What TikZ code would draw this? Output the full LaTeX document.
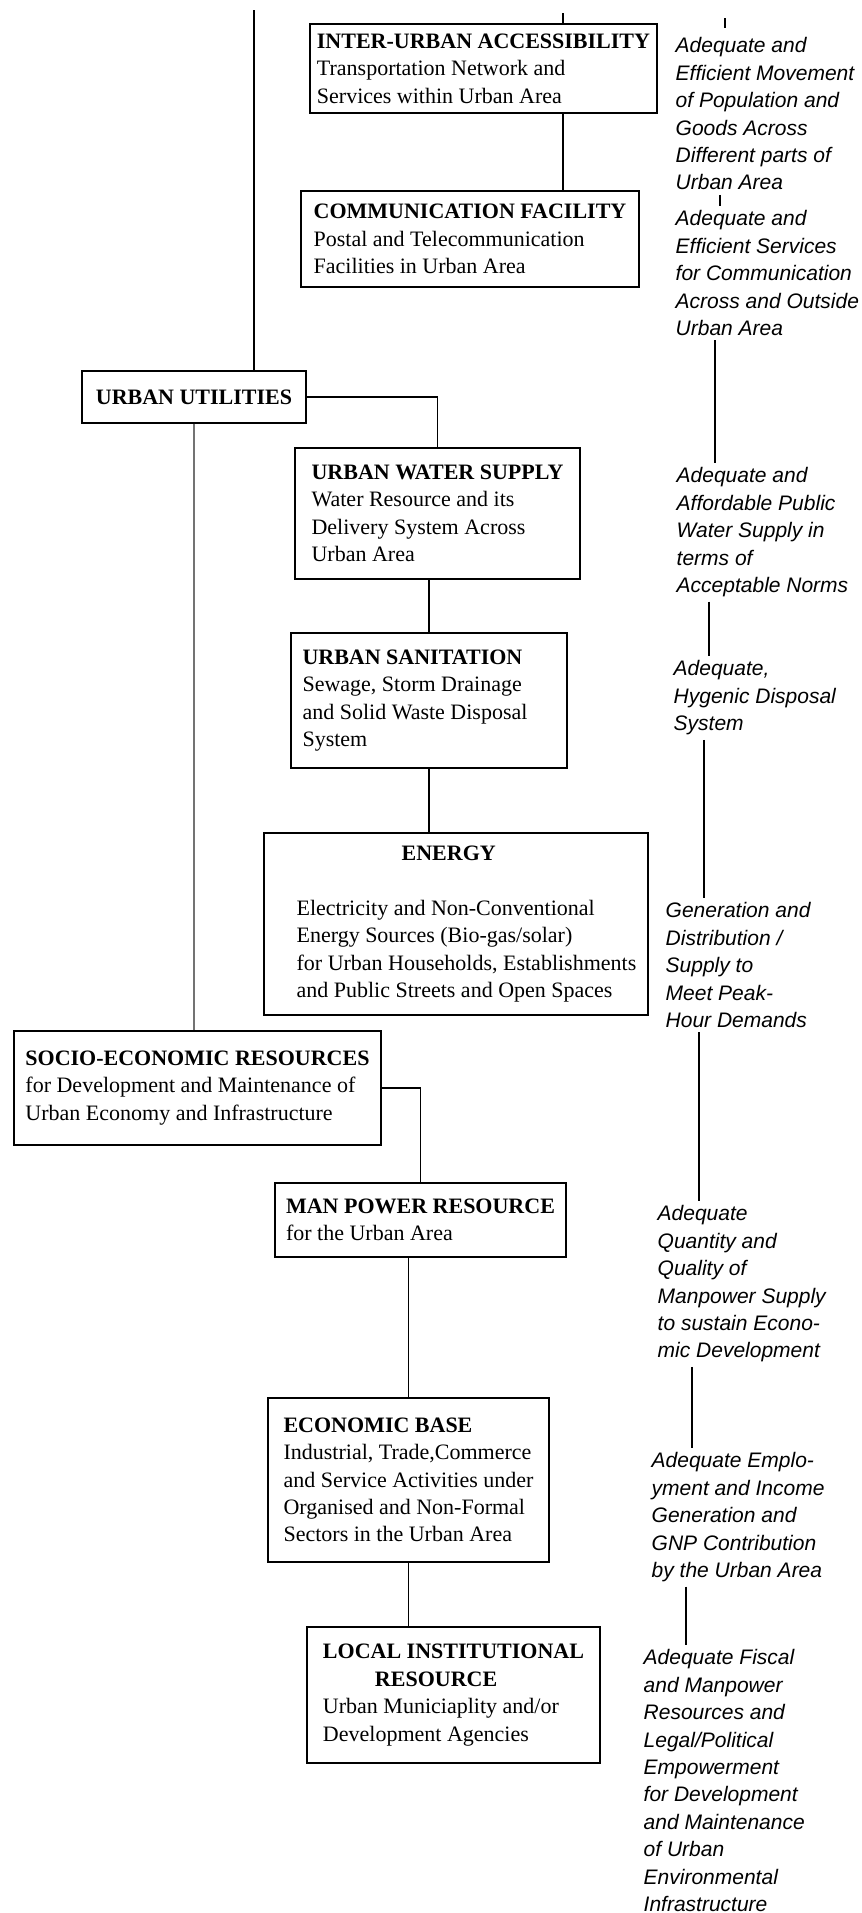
\documentclass[tikz,border=0pt]{standalone}
\usepackage{fontspec}
\setmainfont{Liberation Serif}
\newfontfamily\notefont{Liberation Sans}
\usepackage{tikz}

\begin{document}
\begin{tikzpicture}[x=0.5pt, y=-0.5pt, line width=0.7pt,
    every node/.style={font=\fontsize{11}{13.7}\selectfont},
    box/.style={draw, align=left, inner sep=0pt},
    note/.style={align=left, anchor=north west, inner xsep=0pt, inner ysep=2pt,
      font=\notefont\itshape\fontsize{10.5}{13.7}\selectfont}]
\useasboundingbox (0,0) rectangle (862,1913);

\node[box, minimum width=173.5pt, minimum height=44.5pt] (access) at (483.5,68.5)
  {\textbf{INTER-URBAN ACCESSIBILITY}\\Transportation Network and\\Services within Urban Area};
\node[box, minimum width=169pt, minimum height=48pt] (comm) at (470,239)
  {\textbf{COMMUNICATION FACILITY}\\Postal and Telecommunication\\Facilities in Urban Area};
\node[box, minimum width=112pt, minimum height=26pt] (util) at (194,397)
  {\textbf{URBAN UTILITIES}};
\node[box, minimum width=142.5pt, minimum height=65.5pt] (water) at (437.5,513.5)
  {\textbf{URBAN WATER SUPPLY}\\Water Resource and its\\Delivery System Across\\Urban Area};
\node[box, minimum width=138pt, minimum height=67.5pt] (sanit) at (429,700.5)
  {\textbf{URBAN SANITATION}\\Sewage, Storm Drainage\\and Solid Waste Disposal\rule{14pt}{0pt}\\System};
\node[box, minimum width=192pt, minimum height=91pt] (energy) at (456,924)
  {\hspace*{63pt}\textbf{ENERGY}\\[13.7pt]
   \hspace*{10.5pt}Electricity and Non-Conventional\\
   \hspace*{10.5pt}Energy Sources (Bio-gas/solar)\\
   \hspace*{10.5pt}for Urban Households, Establishments\\
   \hspace*{10.5pt}and Public Streets and Open Spaces};
\node[box, minimum width=183.5pt, minimum height=57pt] (socio) at (197.5,1088)
  {\textbf{SOCIO-ECONOMIC RESOURCES}\\for Development and Maintenance of\\Urban Economy and Infrastructure};
\node[box, minimum width=145.5pt, minimum height=37pt] (man) at (420.5,1220)
  {\textbf{MAN POWER RESOURCE}\\for the Urban Area};
\node[box, minimum width=140.5pt, minimum height=82pt] (econ) at (408.5,1480)
  {\textbf{ECONOMIC BASE}\\Industrial, Trade,Commerce\\and Service Activities under\\Organised and Non-Formal\\Sectors in the Urban Area};
\node[box, minimum width=146.5pt, minimum height=68pt] (local) at (453.5,1695)
  {\textbf{LOCAL INSTITUTIONAL}\\\hspace*{26pt}\textbf{RESOURCE}\\Urban Municiaplity and/or\\Development Agencies};

\node[note] (r1) at (675,33) {Adequate and\\Efficient Movement\\of Population and\\Goods Across\\Different parts of\\Urban Area};
\node[note] (r2) at (675,206) {Adequate and\\Efficient Services\\for Communication\\Across and Outside\\Urban Area};
\node[note] (r3) at (676,463) {Adequate and\\Affordable Public\\Water Supply in\\terms of\\Acceptable Norms};
\node[note] (r4) at (673,656) {Adequate,\\Hygenic Disposal\\System};
\node[note] (r5) at (665,898) {Generation and\\Distribution /\\Supply to\\Meet Peak-\\Hour Demands};
\node[note] (r6) at (657,1201) {Adequate\\Quantity and\\Quality of\\Manpower Supply\\to sustain Econo-\\mic Development};
\node[note] (r7) at (651,1448) {Adequate Emplo-\\yment and Income\\Generation and\\GNP Contribution\\by the Urban Area};
\node[note] (r8) at (643,1645) {Adequate Fiscal\\and Manpower\\Resources and\\Legal/Political\\Empowerment\\for Development\\and Maintenance\\of Urban\\Environmental\\Infrastructure};

\coordinate (lefttop) at (254,10);
\coordinate (midtop) at (563,13);
\coordinate (righttop) at (725,18);

\draw (lefttop) -- (lefttop |- util.north);
\draw (midtop) -- (midtop |- access.north);
\draw (access.south -| midtop) -- (comm.north -| midtop);
\draw (util.east) -| (water.north);
\draw[black!55] (util.south) -- (util.south |- socio.north);
\draw (sanit.north) -- (sanit.north |- water.south);
\draw (sanit.south) -- (sanit.south |- energy.north);
\draw (socio.east) -| (man.north);
\draw (econ.north) -- (econ.north |- man.south);
\draw (econ.south) -- (econ.south |- local.north);

\draw[shorten >=2.5pt] (righttop) -- (righttop |- r1.north);
\draw ([xshift=22.5pt]r1.south west) -- ([xshift=22.5pt]r1.south west |- r2.north);
\draw ([xshift=20pt]r2.south west) -- ([xshift=20pt]r2.south west |- r3.north);
\draw ([xshift=16.5pt]r3.south west) -- ([xshift=16.5pt]r3.south west |- r4.north);
\draw ([xshift=15.5pt]r4.south west) -- ([xshift=15.5pt]r4.south west |- r5.north);
\draw ([xshift=17pt]r5.south west) -- ([xshift=17pt]r5.south west |- r6.north);
\draw ([xshift=17.5pt]r6.south west) -- ([xshift=17.5pt]r6.south west |- r7.north);
\draw ([xshift=17.5pt]r7.south west) -- ([xshift=17.5pt]r7.south west |- r8.north);
\end{tikzpicture}
\end{document}
